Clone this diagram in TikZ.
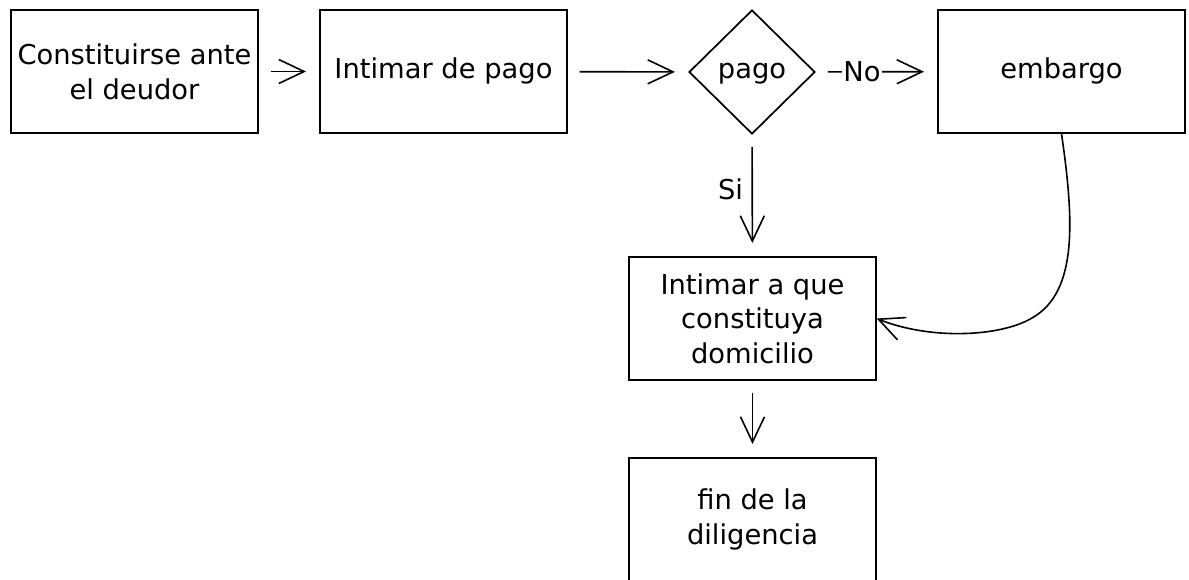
\documentclass[tikz,border=0pt]{standalone}
\usepackage{fontspec}
\setmainfont{DejaVu Sans}
\usetikzlibrary{shapes.geometric,arrows.meta}

\begin{document}
\begin{tikzpicture}[x=0.75pt,y=-0.75pt,
    font=\fontsize{20.5}{26}\selectfont,
    box/.style={draw,line width=1.3pt,minimum width=185pt,minimum height=92pt,
        align=center,inner sep=0pt},
    decision/.style={draw,diamond,line width=1.3pt,minimum width=94.5pt,
        minimum height=93pt,inner sep=0pt},
    flow/.style={line width=1.2pt,-{Straight Barb[length=19pt,width=18pt]},
        shorten <=9pt,shorten >=10pt}]
\useasboundingbox (0,0) rectangle (1189,579);
\clip (0,0) rectangle (1189,579);

% Top row
\node[box] (deudor) at (134.5,71.5) {Constituirse ante\\el deudor};
\node[box] (intimar) at (443.5,71.5) {\strut Intimar de pago};
\node[decision] (pago) at (752,72) {\strut pago};
\node[box] (embargo) at (1061.5,71.5) {\strut embargo};

% Lower column
\node[box] (domicilio) at (752.5,318.5) {Intimar a que\\constituya\\domicilio};
\node[box] (fin) at (752.5,519.5) {fin de la\\diligencia};

% Connectors
\draw[flow] (deudor) -- (intimar);
\draw[flow] (intimar) -- (pago);
\draw[flow] (pago) -- node[fill=white,inner sep=1pt,pos=0.38] {No} (embargo);
\draw[flow] (pago) -- node[left=3pt,pos=0.45] {Si} (domicilio);
\draw[flow] (domicilio) -- (fin);

% Embargo back to domicilio
\coordinate (bend) at (1032,318);
\draw[flow,shorten <=0pt,shorten >=0pt] (embargo.south)
    .. controls (1074,220) and (1078,292) .. (bend)
    .. controls (1000,337) and (930,340) .. (domicilio.east);

\end{tikzpicture}
\end{document}
